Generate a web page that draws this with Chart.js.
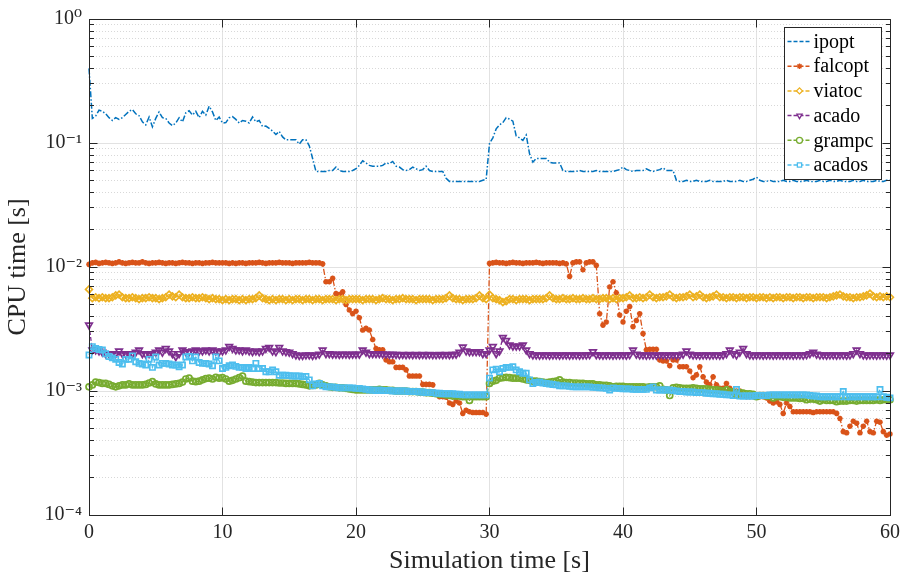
<!DOCTYPE html>
<html>
<head>
<meta charset="utf-8">
<script src="https://cdn.jsdelivr.net/npm/chart.js@4.4.1/dist/chart.umd.min.js"></script>
<style>
  html, body { margin: 0; padding: 0; background: #fff; }
</style>
</head>
<body>
<canvas id="cpuChart" width="906" height="579"></canvas>
<script>
// Sample spacing of the simulation (s)
const STEP_S = 0.25;

const seriesNames = ['ipopt', 'falcopt', 'viatoc', 'acado', 'grampc', 'acados'];

// CPU time per sample in milliseconds (one row = 5 s)
const ipoptMs = [
  400,158,165,184,180,172,160,152,160,155,160,170,180,186,172,166,148,140,162,135,
  158,178,160,158,145,138,145,160,148,175,182,168,180,160,180,168,198,178,152,162,
  145,146,160,163,155,145,152,150,145,162,148,152,136,137,131,125,117,124,112,106,
  106,106,106,98,106,106,95,75,59,59,59,59,60,60,64,60,59,59,59,60,
  62,66,72,69,66,65,65,65,66,69,68,71,65,64,61,60,61,64,62,60,
  61,65,60,59,59,59,59,52,49,49,49,49,49,49,49,49,49,49,50,51,
  99,110,130,140,146,160,156,150,114,110,105,116,82,70,75,75,75,75,70,69,
  69,69,60,59,59,59,59,60,59,59,59,59,60,59,59,59,59,59,60,61,
  64,61,60,59,60,60,60,62,60,59,60,61,63,60,60,60,50,49,49,50,
  49,49,50,49,49,49,50,49,49,49,49,50,49,49,49,50,49,49,50,51,
  53,50,49,49,50,49,49,49,50,49,49,50,49,49,49,50,49,49,49,50,
  49,49,50,49,49,50,49,49,49,50,49,49,50,49,49,49,50,49,49,50,
  50
];
const falcoptMs = [
  10.5,10.8,10.9,10.7,10.8,10.9,10.8,10.7,10.8,11.0,10.8,10.7,10.8,10.9,10.8,10.8,11.0,10.8,10.7,10.8,
  10.8,10.9,10.8,10.7,10.8,10.8,10.7,10.8,10.9,10.8,10.8,10.7,10.8,10.8,10.7,10.8,10.8,10.9,10.8,10.8,
  10.8,10.8,10.7,10.8,10.7,10.8,10.8,10.7,10.8,10.8,10.8,10.9,10.8,10.7,10.8,10.8,10.8,10.9,10.8,10.8,
  10.8,10.7,10.8,10.8,10.8,10.8,10.9,10.8,10.8,10.8,10.6,7.6,7.6,8.1,6.1,6.0,6.3,5.0,4.5,4.2,
  4.4,3.9,3.1,3.2,3.1,2.6,2.2,2.15,2.15,1.78,1.72,1.72,1.55,1.55,1.55,1.48,1.32,1.32,1.32,1.32,
  1.13,1.13,1.13,1.12,0.95,0.90,0.90,0.89,0.80,0.78,0.83,0.80,0.66,0.70,0.68,0.67,0.67,0.67,0.67,0.65,
  10.7,10.8,10.9,10.8,10.8,10.7,10.8,10.9,10.8,10.8,10.7,10.8,10.8,10.8,10.9,10.8,10.7,10.8,10.8,10.8,
  10.8,10.7,10.8,10.6,8.4,10.8,11.0,11.0,9.5,10.8,11.0,11.0,10.3,4.2,3.4,3.6,6.9,7.6,6.2,4.1,
  3.6,4.4,4.8,3.3,3.7,4.2,2.9,2.15,2.17,2.17,2.17,1.78,1.75,1.75,1.6,1.78,1.78,1.57,1.57,1.57,
  1.45,1.28,1.35,1.57,1.3,1.18,1.12,1.3,1.12,1.05,1.05,1.15,1.05,1.0,1.0,1.0,0.92,0.9,0.9,0.9,
  0.9,0.9,0.9,0.88,0.83,0.80,0.82,0.78,0.66,0.8,0.75,0.68,0.68,0.68,0.68,0.68,0.68,0.67,0.68,0.68,
  0.68,0.68,0.68,0.68,0.66,0.60,0.47,0.46,0.52,0.57,0.55,0.46,0.52,0.57,0.47,0.46,0.57,0.56,0.47,0.44,
  0.45
];
const viatocMs = [
  6.6,5.6,5.7,5.6,5.7,5.6,5.6,5.7,5.9,6.0,5.7,5.6,5.6,5.7,5.6,5.5,5.6,5.6,5.7,5.6,
  5.6,5.5,5.6,5.7,6.0,5.8,5.7,6.0,5.7,5.6,5.6,5.7,5.6,5.6,5.7,5.6,5.5,5.6,5.5,5.5,
  5.4,5.5,5.4,5.5,5.5,5.4,5.5,5.4,5.5,5.5,5.6,5.9,5.6,5.5,5.4,5.5,5.4,5.5,5.5,5.4,
  5.5,5.4,5.5,5.5,5.4,5.5,5.5,5.4,5.5,5.5,5.4,5.5,5.5,5.5,5.4,5.5,5.5,5.4,5.5,5.5,
  5.5,5.5,5.4,5.5,5.5,5.5,5.4,5.5,5.6,5.5,5.5,5.4,5.5,5.5,5.6,5.5,5.5,5.5,5.4,5.5,
  5.5,5.5,5.5,5.4,5.5,5.5,5.5,5.6,5.9,5.6,5.5,5.5,5.4,5.5,5.5,5.5,5.6,5.9,5.6,5.5,
  6.0,5.6,5.5,5.4,5.2,5.3,5.5,5.5,5.4,5.5,5.5,5.5,5.4,5.5,5.5,5.5,5.5,5.6,5.9,5.6,
  5.5,5.5,5.6,5.5,5.5,5.6,5.5,5.5,5.6,5.5,5.5,5.6,5.5,5.5,5.6,5.6,5.5,5.6,5.5,5.6,
  5.6,5.7,5.9,5.6,5.6,5.7,5.6,5.7,6.0,5.7,5.6,5.7,5.7,5.8,6.0,5.7,5.6,5.7,5.7,5.8,
  6.0,5.7,5.8,6.0,5.7,5.6,5.7,5.8,6.0,5.7,5.7,5.6,5.7,5.7,5.6,5.7,5.7,5.6,5.7,5.7,
  5.6,5.7,5.7,5.6,5.7,5.6,5.7,5.7,5.6,5.7,5.7,5.6,5.7,5.7,5.6,5.7,5.7,5.6,5.7,5.7,
  5.7,5.6,5.7,5.8,5.9,6.0,5.8,5.7,5.7,5.6,5.7,5.7,5.8,5.9,6.1,5.8,5.7,5.8,5.7,5.8,
  5.7
];
const acadoMs = [
  3.4,2.14,2.14,2.1,2.05,2.0,2.0,2.0,2.0,2.1,2.0,1.98,2.0,2.0,2.05,2.14,2.0,1.98,2.0,2.0,
  2.05,2.14,2.05,2.2,2.1,2.0,1.89,2.0,2.14,2.07,2.07,2.1,2.14,2.1,2.1,2.14,2.1,2.14,2.1,2.07,
  2.1,2.14,2.28,2.2,2.14,2.14,2.1,2.14,2.1,2.07,2.1,2.07,2.1,2.2,2.24,2.1,2.07,2.24,2.1,2.07,
  2.05,2.0,1.95,1.93,1.93,1.95,1.95,1.93,1.95,1.98,2.14,2.0,2.0,1.98,1.98,1.97,1.98,1.98,1.97,1.98,
  1.98,1.98,2.14,2.05,2.0,2.0,2.0,2.0,1.99,1.98,1.97,1.98,1.97,1.96,1.97,1.96,1.97,1.96,1.97,1.96,
  1.97,1.96,1.97,1.96,1.96,1.97,1.96,1.97,1.96,1.97,1.98,2.05,2.26,2.1,2.07,2.07,2.07,2.07,2.0,2.0,
  2.14,2.28,2.0,2.1,2.7,2.55,2.35,2.3,2.3,2.3,2.35,2.14,2.0,1.95,1.95,1.94,1.95,1.95,1.94,1.95,
  1.95,1.94,1.95,1.95,1.94,1.95,1.95,1.94,1.95,1.95,1.96,2.07,1.96,1.95,1.94,1.95,1.95,1.94,1.95,1.95,
  1.95,1.94,1.96,2.14,1.98,1.95,1.95,1.94,1.95,1.95,1.94,1.95,1.95,1.94,1.95,1.95,1.94,1.95,1.98,2.1,
  1.98,1.95,1.95,1.94,1.95,1.95,1.94,1.95,1.95,1.94,1.95,2.0,2.14,2.0,1.95,2.05,2.2,2.0,1.95,1.94,
  1.95,1.95,1.94,1.95,1.95,1.94,1.95,1.95,1.94,1.95,1.95,1.94,1.95,1.95,1.94,1.96,2.0,2.05,1.98,1.95,
  1.95,1.94,1.95,1.95,1.94,1.95,1.95,1.94,1.95,2.0,2.14,2.0,1.95,1.94,1.95,1.95,1.94,1.95,1.95,1.94,
  1.95
];
const grampcMs = [
  1.08,1.12,1.18,1.17,1.15,1.15,1.13,1.1,1.08,1.1,1.12,1.12,1.14,1.12,1.12,1.12,1.12,1.13,1.16,1.19,
  1.14,1.12,1.12,1.12,1.12,1.13,1.14,1.15,1.18,1.25,1.27,1.2,1.19,1.2,1.23,1.26,1.27,1.25,1.29,1.27,
  1.28,1.25,1.2,1.22,1.25,1.28,1.32,1.2,1.19,1.18,1.17,1.17,1.17,1.17,1.17,1.17,1.17,1.16,1.16,1.15,
  1.15,1.15,1.15,1.14,1.13,1.12,1.1,1.11,1.12,1.15,1.12,1.1,1.08,1.07,1.07,1.06,1.06,1.05,1.04,1.03,
  1.02,1.02,1.02,1.02,1.02,1.02,1.02,1.03,1.02,1.02,1.01,1.01,1.0,1.0,1.0,1.0,0.99,0.99,0.99,0.98,
  0.98,0.97,0.97,0.96,0.95,0.94,0.94,0.93,0.92,0.91,0.91,0.91,0.9,0.9,0.84,0.9,0.9,0.9,0.9,0.9,
  1.15,1.2,1.22,1.27,1.28,1.29,1.28,1.27,1.27,1.27,1.25,1.23,1.22,1.2,1.2,1.19,1.18,1.17,1.18,1.19,
  1.2,1.23,1.18,1.17,1.17,1.16,1.16,1.15,1.15,1.14,1.14,1.14,1.12,1.12,1.11,1.11,1.1,1.08,1.09,1.09,
  1.09,1.08,1.08,1.08,1.08,1.08,1.08,1.07,1.08,1.08,1.08,1.1,1.03,1.02,0.92,1.06,1.07,1.06,1.05,1.05,
  1.05,1.06,1.05,1.04,1.04,1.04,1.03,1.02,1.02,1.01,1.0,1.02,0.99,0.98,0.93,0.97,0.96,0.95,0.95,0.94,
  0.9,0.92,0.92,0.91,0.91,0.88,0.9,0.9,0.89,0.89,0.88,0.88,0.88,0.87,0.87,0.85,0.86,0.86,0.85,0.83,
  0.85,0.84,0.84,0.84,0.82,0.83,0.83,0.83,0.84,0.84,0.83,0.84,0.84,0.84,0.84,0.84,0.85,0.84,0.85,0.85,
  0.85
];
const acadosMs = [
  1.95,2.28,2.2,2.16,2.14,2.0,1.9,1.85,1.8,1.7,1.65,1.8,1.8,1.92,1.72,1.67,1.65,1.62,1.8,1.55,
  1.88,1.62,1.67,1.67,1.65,1.62,1.62,1.57,1.62,1.88,1.9,1.75,1.88,1.7,1.67,1.67,1.65,1.6,1.88,1.75,
  1.52,1.55,1.6,1.62,1.58,1.55,1.55,1.52,1.55,1.52,1.67,1.52,1.52,1.43,1.43,1.48,1.43,1.34,1.34,1.34,
  1.33,1.32,1.32,1.32,1.31,1.31,1.23,1.1,1.14,1.15,1.1,1.08,1.08,1.08,1.07,1.06,1.06,1.06,1.06,1.06,
  1.05,1.05,1.04,1.03,1.02,1.02,1.01,1.02,1.01,1.01,1.01,1.0,1.0,1.0,1.0,1.0,0.99,0.99,0.99,0.98,
  0.98,0.97,0.97,0.97,0.96,0.96,0.95,0.95,0.95,0.95,0.94,0.94,0.93,0.93,0.93,0.93,0.93,0.93,0.93,0.93,
  1.27,1.48,1.5,1.43,1.52,1.55,1.55,1.57,1.48,1.43,1.39,1.39,1.23,1.15,1.17,1.18,1.16,1.15,1.14,1.13,
  1.12,1.1,1.1,1.1,1.09,1.08,1.08,1.08,1.08,1.08,1.08,1.07,1.07,1.06,1.06,1.05,1.02,1.06,1.05,1.05,
  1.04,1.04,1.04,1.03,1.03,1.03,1.03,1.03,1.06,1.08,1.02,1.02,1.02,1.02,1.02,1.01,1.0,0.99,0.99,0.98,
  0.98,0.98,0.97,0.97,0.97,0.96,0.96,0.95,0.95,0.94,0.94,0.93,0.93,0.92,1.03,0.91,0.91,0.91,0.91,0.91,
  0.92,0.92,0.92,0.92,0.93,0.93,0.93,0.93,0.93,0.93,0.93,0.93,0.93,0.93,0.93,0.93,0.92,0.91,0.91,0.9,
  0.9,0.9,0.9,0.9,0.9,0.9,0.99,0.9,0.9,0.9,0.9,0.9,0.9,0.9,0.9,0.9,0.9,1.03,0.9,0.89,
  0.88
];

const xTicks = [0, 10, 20, 30, 40, 50, 60];
const yDecades = [1e-4, 1e-3, 1e-2, 1e-1, 1];
const yDecadeLabels = ['10⁻⁴', '10⁻³', '10⁻²', '10⁻¹', '10⁰'];
const yMinorSteps = [2, 3, 4, 5, 6, 7, 8, 9];

const SERIF = "'Liberation Serif', 'DejaVu Serif', serif";
const AXIS = '#262626';

// MATLAB-ish line specs
const STYLE = {
    ipopt:   { color: '#0072BD', dash: [6, 2, 1.5, 2], width: 1.5, point: 'circle', radius: 0 },
    falcopt: { color: '#D95319', dash: [6, 2, 1.5, 2], width: 1.3, point: 'star', radius: 2.8 },
    viatoc:  { color: '#EDB120', dash: [4, 2], width: 1.3, point: 'rectRot', radius: 3.4 },
    acado:   { color: '#7E2F8E', dash: [4, 2], width: 1.3, point: 'triangle', radius: 3.8, rotation: 180 },
    grampc:  { color: '#77AC30', dash: [4, 2], width: 1.3, point: 'circle', radius: 3 },
    acados:  { color: '#4DBEEE', dash: [4, 2], width: 1.3, point: 'rect', radius: 3.7 },
};

const msSeries = [ipoptMs, falcoptMs, viatocMs, acadoMs, grampcMs, acadosMs];

const isDecade = v => yDecades.some(d => Math.abs(v - d) < d * 1e-6);
const crisp = p => Math.round(p - 0.5) + 0.5;

const datasets = seriesNames.map((name, k) => {
    const s = STYLE[name];
    return {
        label: name,
        data: msSeries[k].map((ms, i) => ({ x: i * STEP_S, y: ms / 1000 })),
        borderColor: s.color,
        backgroundColor: s.color,
        borderWidth: s.width,
        borderDash: s.dash,
        pointStyle: s.point,
        pointRadius: s.radius,
        pointRotation: s.rotation || 0,
        pointBorderColor: s.color,
        pointBackgroundColor: 'rgba(0,0,0,0)',
        pointBorderWidth: 1.7,
        tension: 0,
        clip: false,
        order: seriesNames.length - k, // later series on top, like MATLAB
    };
});

// box on + inward ticks on all four sides
const axesFrame = {
    id: 'axesFrame',
    afterDatasetsDraw(chart) {
        const { ctx, chartArea: a, scales: { x, y } } = chart;
        const l = crisp(a.left), r = crisp(a.right), t = crisp(a.top), b = crisp(a.bottom);
        ctx.save();
        ctx.strokeStyle = AXIS;
        ctx.lineWidth = 1;
        ctx.setLineDash([]);
        ctx.beginPath();
        ctx.moveTo(l, b); ctx.lineTo(l, t); ctx.lineTo(r, t); ctx.lineTo(r, b); ctx.lineTo(l, b);
        xTicks.forEach(v => {
            const px = crisp(x.getPixelForValue(v));
            ctx.moveTo(px, b); ctx.lineTo(px, b - 8);
            ctx.moveTo(px, t); ctx.lineTo(px, t + 8);
        });
        y.ticks.forEach(tk => {
            const py = crisp(y.getPixelForValue(tk.value));
            const len = isDecade(tk.value) ? 8 : 4.5;
            ctx.moveTo(l, py); ctx.lineTo(l + len, py);
            ctx.moveTo(r, py); ctx.lineTo(r - len, py);
        });
        ctx.stroke();
        ctx.restore();
    },
};

// boxed legend in the upper right corner of the axes
const boxLegend = {
    id: 'boxLegend',
    afterDraw(chart) {
        const { ctx, chartArea: a } = chart;
        const w = 97, rowH = 24.7, h = 152;
        const left = crisp(a.right - 9 - w), top = crisp(a.top + 8);
        ctx.save();
        ctx.fillStyle = '#fff';
        ctx.fillRect(left, top, w, h);
        ctx.strokeStyle = AXIS;
        ctx.lineWidth = 1;
        ctx.strokeRect(left, top, w, h);
        ctx.font = '20px ' + SERIF;
        ctx.textBaseline = 'middle';
        chart.data.datasets.forEach((ds, k) => {
            const s = STYLE[ds.label];
            const cy = top + 14 + k * rowH;
            ctx.strokeStyle = s.color;
            ctx.lineWidth = 1.5;
            ctx.setLineDash([4, 2]);
            ctx.beginPath();
            ctx.moveTo(left + 3, cy);
            ctx.lineTo(left + 27, cy);
            ctx.stroke();
            ctx.setLineDash([]);
            if (s.radius > 0 && Chart.helpers && Chart.helpers.drawPoint) {
                ctx.fillStyle = '#fff';
                ctx.lineWidth = 1.3;
                Chart.helpers.drawPoint(ctx, {
                    pointStyle: s.point, rotation: s.rotation || 0,
                    radius: Math.min(s.radius, 3), borderWidth: 1.3,
                }, left + 15, cy);
            }
            ctx.fillStyle = '#000';
            ctx.fillText(ds.label, left + 29, cy + 1);
        });
        ctx.restore();
    },
};

new Chart(document.getElementById('cpuChart'), {
    type: 'line',
    data: { datasets },
    options: {
        responsive: false,
        animation: false,
        events: [],
        layout: { padding: { left: 0, right: 13, top: 19, bottom: 0 }, autoPadding: false },
        plugins: { legend: { display: false }, tooltip: { enabled: false } },
        scales: {
            x: {
                type: 'linear',
                min: 0,
                max: 60,
                afterFit: scale => { scale.height = 64; },
                afterBuildTicks: scale => { scale.ticks = xTicks.map(v => ({ value: v })); },
                ticks: {
                    font: { family: SERIF, size: 20 },
                    color: AXIS,
                    padding: 6,
                    maxRotation: 0,
                    autoSkip: false,
                },
                grid: { color: '#e2e2e2', lineWidth: 1, drawTicks: false },
                border: { color: AXIS, width: 1 },
                title: {
                    display: true,
                    text: 'Simulation time [s]',
                    font: { family: SERIF, size: 26 },
                    color: AXIS,
                    padding: { top: 0, bottom: 2 },
                },
            },
            y: {
                type: 'logarithmic',
                min: 1e-4,
                max: 1,
                afterFit: scale => { scale.width = 89; },
                afterBuildTicks: scale => {
                    const ticks = [];
                    yDecades.forEach((d, k) => {
                        ticks.push({ value: d, major: true });
                        if (k < yDecades.length - 1) yMinorSteps.forEach(m => ticks.push({ value: d * m, major: false }));
                    });
                    scale.ticks = ticks;
                },
                ticks: {
                    font: { family: SERIF, size: 20 },
                    color: AXIS,
                    padding: 7,
                    autoSkip: false,
                    callback(value) {
                        const k = yDecades.findIndex(d => Math.abs(value - d) < d * 1e-6);
                        return k >= 0 ? yDecadeLabels[k] : '';
                    },
                },
                grid: {
                    drawTicks: false,
                    lineWidth: 1,
                    color: ctx => (ctx.tick && !isDecade(ctx.tick.value)) ? '#d8d8d8' : '#e2e2e2',
                },
                border: {
                    color: AXIS,
                    width: 1,
                    dash: ctx => (ctx.tick && !isDecade(ctx.tick.value)) ? [1, 2] : [],
                },
                title: {
                    display: true,
                    text: 'CPU time [s]',
                    font: { family: SERIF, size: 26 },
                    color: AXIS,
                    padding: { top: 3, bottom: 0 },
                },
            },
        },
    },
    plugins: [axesFrame, boxLegend],
});
</script>
</body>
</html>
